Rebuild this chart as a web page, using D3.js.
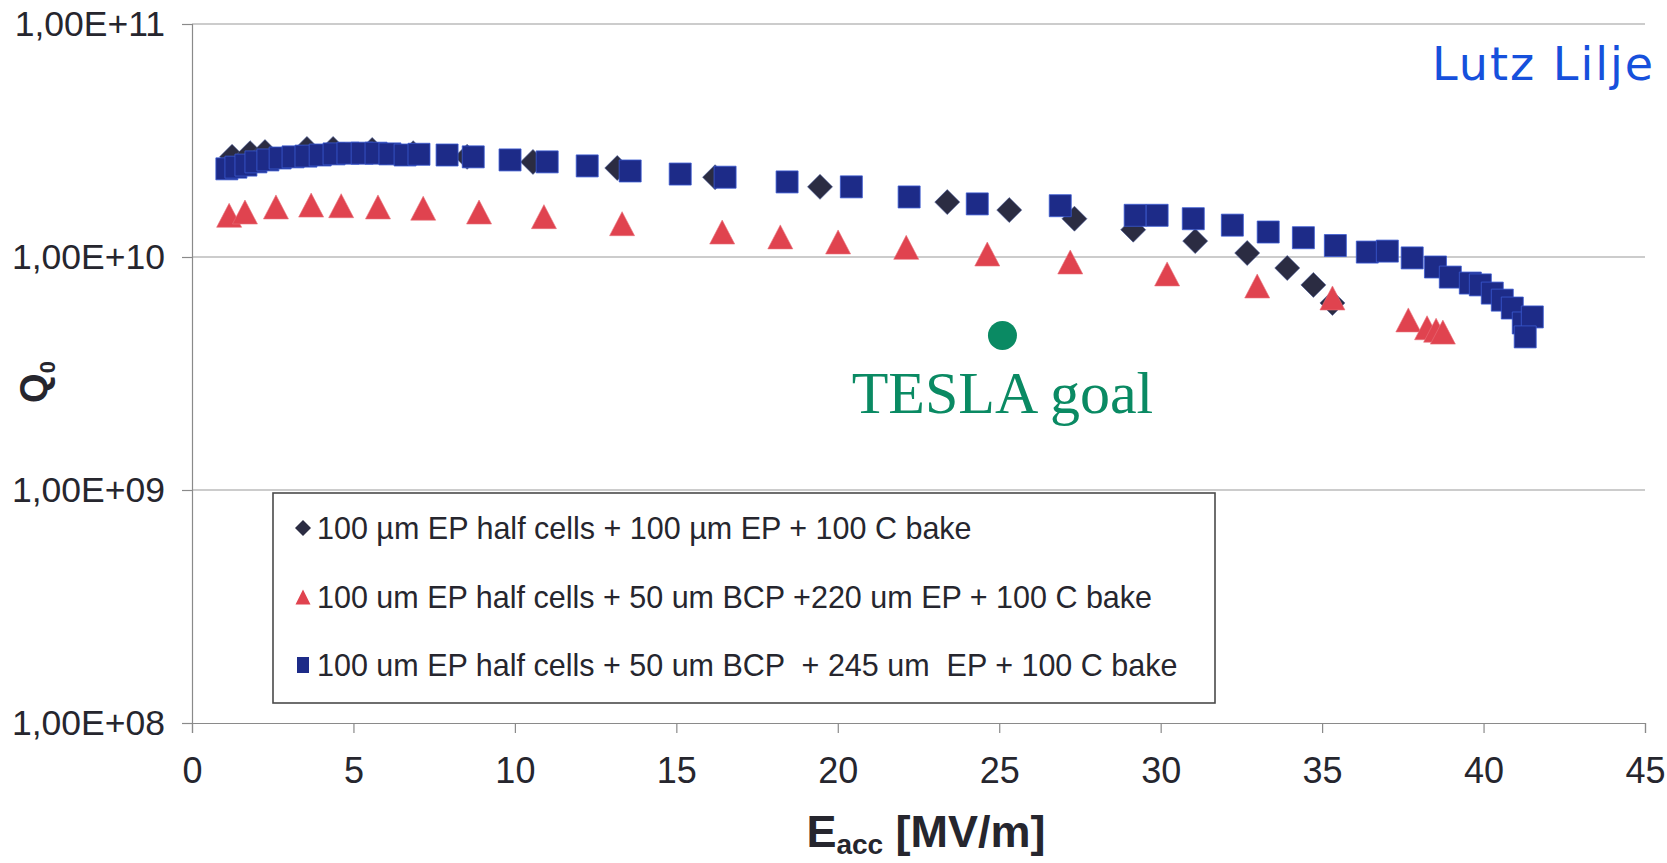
<!DOCTYPE html>
<html>
<head>
<meta charset="utf-8">
<script src="https://cdn.jsdelivr.net/npm/d3@7"></script>
<style>
  html, body { margin: 0; padding: 0; background: #ffffff; overflow: hidden; }
  svg { display: block; font-family: "Liberation Sans", Arial, Helvetica, sans-serif; }
</style>
</head>
<body>
<svg id="chart" width="1667" height="863"></svg>
<script>
// Q0 versus accelerating gradient for three single-cell preparations
const xTicks = [0, 5, 10, 15, 20, 25, 30, 35, 40, 45];
const yTicks = [1e8, 1e9, 1e10, 1e11];
const yTickLabels = ["1,00E+08", "1,00E+09", "1,00E+10", "1,00E+11"];

const seriesLabels = [
  "100 \u00b5m EP half cells + 100 \u00b5m EP + 100 C bake",
  "100 um EP half cells + 50 um BCP +220 um EP + 100 C bake",
  "100 um EP half cells + 50 um BCP  + 245 um  EP + 100 C bake"
];

// 100 µm EP half cells + 100 µm EP + 100 C bake
const diamondE = [1.24, 1.80, 2.26, 3.56, 4.37, 5.58, 6.85, 8.52, 10.56, 13.17,
  16.20, 19.45, 23.39, 25.31, 27.33, 29.15, 31.07, 32.68, 33.92, 34.73, 35.32];
const diamondQ = [2.69e10, 2.79e10, 2.82e10, 2.91e10, 2.91e10, 2.88e10, 2.79e10, 2.69e10, 2.56e10, 2.41e10,
  2.20e10, 2.00e10, 1.72e10, 1.59e10, 1.46e10, 1.31e10, 1.17e10, 1.04e10, 8.97e9, 7.59e9, 6.35e9];

// 100 um EP half cells + 50 um BCP + 220 um EP + 100 C bake
const triangleE = [1.15, 1.64, 2.60, 3.69, 4.62, 5.76, 7.16, 8.89, 10.90, 13.32,
  16.42, 18.22, 20.01, 22.12, 24.63, 27.20, 30.20, 32.99, 35.32, 37.67, 38.25, 38.53, 38.74];
const triangleQ = [1.51e10, 1.56e10, 1.64e10, 1.67e10, 1.66e10, 1.64e10, 1.62e10, 1.56e10, 1.49e10, 1.39e10,
  1.28e10, 1.22e10, 1.16e10, 1.10e10, 1.03e10, 9.52e9, 8.46e9, 7.51e9, 6.67e9, 5.37e9, 4.97e9, 4.85e9, 4.76e9];

// 100 um EP half cells + 50 um BCP + 245 um EP + 100 C bake
const squareE = [1.08, 1.36, 1.67, 1.98, 2.35, 2.73, 3.13, 3.53, 3.97, 4.40,
  4.83, 5.27, 5.70, 6.13, 6.60, 7.03, 7.90, 8.71, 9.85, 11.00,
  12.24, 13.57, 15.12, 16.51, 18.43, 20.42, 22.21, 24.32, 26.89, 29.21,
  29.89, 31.01, 32.22, 33.33, 34.42, 35.41, 36.40, 37.02, 37.79, 38.51,
  38.97, 39.59, 39.90, 40.27, 40.58, 40.89, 41.23, 41.51, 41.29];
const squareQ = [2.39e10, 2.43e10, 2.48e10, 2.56e10, 2.61e10, 2.66e10, 2.69e10, 2.71e10, 2.74e10, 2.77e10,
  2.79e10, 2.79e10, 2.79e10, 2.77e10, 2.74e10, 2.76e10, 2.74e10, 2.69e10, 2.61e10, 2.56e10,
  2.46e10, 2.34e10, 2.27e10, 2.20e10, 2.10e10, 2.00e10, 1.81e10, 1.69e10, 1.66e10, 1.51e10,
  1.51e10, 1.46e10, 1.37e10, 1.28e10, 1.21e10, 1.12e10, 1.05e10, 1.06e10, 9.91e9, 9.06e9,
  8.20e9, 7.73e9, 7.59e9, 7.00e9, 6.53e9, 6.04e9, 5.21e9, 5.53e9, 4.54e9];

// TESLA design target
const goalE = [25.1];
const goalQ = [4.6e9];
const goalLabel = "TESLA goal";

const colors = { diamond: "#2b2c42", triangle: "#e0434f", square: "#1d2b88", goal: "#0a8a63", ink: "#26262e" };

const svg = d3.select("#chart");
const x = d3.scaleLinear().domain([0, 45]).range([192, 1645]);
const y = d3.scaleLog().domain([1e8, 1e11]).range([723, 24]);

// horizontal gridlines at each decade
svg.append("g").selectAll("line").data(yTicks.slice(1)).join("line")
  .attr("x1", x(0)).attr("x2", x(45))
  .attr("y1", d => y(d)).attr("y2", d => y(d))
  .attr("stroke", "#9a9a9a").attr("stroke-width", 1.2);

// y axis
const yAxis = svg.append("g").attr("transform", `translate(${x(0)},0)`)
  .call(d3.axisLeft(y).tickValues(yTicks).tickSize(10).tickPadding(17)
    .tickFormat((d, i) => yTickLabels[i]));
yAxis.select(".domain").attr("stroke", "#8a8a8a").attr("stroke-width", 1.2);
yAxis.selectAll(".tick line").attr("stroke", "#8a8a8a").attr("stroke-width", 1.2);
yAxis.selectAll(".tick text").attr("font-size", 35.5).attr("fill", colors.ink)
  .attr("font-family", "'Liberation Sans', Arial, sans-serif");

// x axis
const xAxis = svg.append("g").attr("transform", `translate(0,${y(1e8)})`)
  .call(d3.axisBottom(x).tickValues(xTicks).tickSize(10).tickPadding(24).tickFormat(d3.format("d")));
xAxis.select(".domain").attr("stroke", "#8a8a8a").attr("stroke-width", 1.2);
xAxis.selectAll(".tick line").attr("stroke", "#8a8a8a").attr("stroke-width", 1.2);
xAxis.selectAll(".tick text").attr("font-size", 36).attr("fill", colors.ink)
  .attr("font-family", "'Liberation Sans', Arial, sans-serif");

// marker shapes
const diamondPath = r => `M0,${-r}L${r},0L0,${r}L${-r},0Z`;
const trianglePath = (w, h) => `M0,${-h / 2}L${w / 2},${h / 2}L${-w / 2},${h / 2}Z`;
const squarePath = s => `M${-s / 2},${-s / 2}h${s}v${s}h${-s}Z`;

const plot = svg.append("g");

plot.append("g").selectAll("path").data(d3.zip(diamondE, diamondQ)).join("path")
  .attr("transform", d => `translate(${x(d[0])},${y(d[1])})`)
  .attr("d", diamondPath(12.5))
  .attr("fill", colors.diamond).attr("stroke", "#4a5a9a").attr("stroke-width", 0.6);

plot.append("g").selectAll("path").data(d3.zip(triangleE, triangleQ)).join("path")
  .attr("transform", d => `translate(${x(d[0])},${y(d[1])})`)
  .attr("d", trianglePath(25, 24))
  .attr("fill", colors.triangle).attr("stroke", "#e8707a").attr("stroke-width", 0.6);

plot.append("g").selectAll("path").data(d3.zip(squareE, squareQ)).join("path")
  .attr("transform", d => `translate(${x(d[0])},${y(d[1])})`)
  .attr("d", squarePath(22))
  .attr("fill", colors.square).attr("stroke", "#3b5ad2").attr("stroke-width", 0.8);

// TESLA goal marker and caption
svg.append("g").selectAll("circle").data(d3.zip(goalE, goalQ)).join("circle")
  .attr("cx", d => x(d[0])).attr("cy", d => y(d[1])).attr("r", 14.5)
  .attr("fill", colors.goal);
svg.append("text")
  .attr("x", x(goalE[0])).attr("y", y(goalQ[0]) + 77)
  .attr("text-anchor", "middle")
  .style("font-family", "'Liberation Serif', 'Times New Roman', serif")
  .attr("font-size", 60).attr("fill", colors.goal)
  .text(goalLabel);

// legend
const legend = svg.append("g");
legend.append("rect")
  .attr("x", 273).attr("y", 493).attr("width", 942).attr("height", 210)
  .attr("fill", "#ffffff").attr("stroke", "#4a4a4a").attr("stroke-width", 1.6);
const rowY = [528, 597, 665];
const legendShapes = [
  { d: diamondPath(8), fill: colors.diamond },
  { d: trianglePath(15, 15), fill: colors.triangle },
  { d: "M-6,-8h12v16h-12Z", fill: colors.square }
];
seriesLabels.forEach((label, i) => {
  legend.append("path")
    .attr("transform", `translate(303,${rowY[i]})`)
    .attr("d", legendShapes[i].d).attr("fill", legendShapes[i].fill);
  legend.append("text")
    .attr("x", 317).attr("y", rowY[i]).attr("dy", "0.36em")
    .attr("font-size", 30.5).attr("fill", colors.ink)
    .attr("xml:space", "preserve")
    .style("white-space", "pre")
    .text(label);
});

// axis titles
const yTitle = svg.append("text")
  .attr("transform", "translate(47,382) rotate(-90)")
  .attr("text-anchor", "middle")
  .attr("font-weight", "bold").attr("font-size", 38).attr("fill", colors.ink);
yTitle.append("tspan").text("Q");
yTitle.append("tspan").attr("font-size", 22).attr("dy", 8).text("0");

const xTitle = svg.append("text")
  .attr("x", 926).attr("y", 847)
  .attr("text-anchor", "middle")
  .attr("font-weight", "bold").attr("font-size", 45).attr("fill", colors.ink);
xTitle.append("tspan").text("E");
xTitle.append("tspan").attr("font-size", 28).attr("dy", 7).text("acc");
xTitle.append("tspan").attr("dy", -7).text(" [MV/m]");

// handwritten author note, top right
svg.append("text")
  .attr("x", 1432).attr("y", 80)
  .style("font-family", "'DejaVu Sans', sans-serif")
  .attr("font-size", 46).attr("letter-spacing", 2)
  .attr("fill", "#1650dc")
  .text("Lutz Lilje");
</script>
</body>
</html>
